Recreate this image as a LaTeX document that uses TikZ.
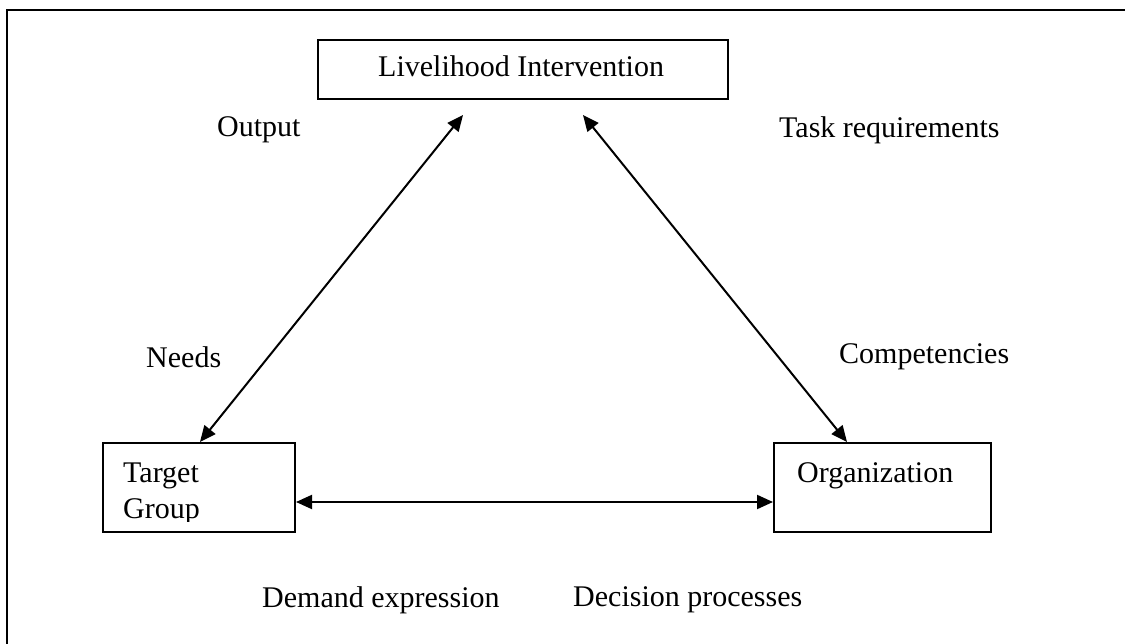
\documentclass[tikz,border=0pt]{standalone}
\usepackage{fontspec}
\setmainfont{Liberation Serif}
\usetikzlibrary{arrows.meta}
\begin{document}
\begin{tikzpicture}[x=1pt,y=-1pt,
  box/.style={draw,line width=2pt},
  lbl/.style={anchor=west,inner sep=0pt,font=\fontsize{30}{36}\selectfont},
  link/.style={line width=2pt,{Triangle[length=16pt,width=14pt]}-{Triangle[length=16pt,width=14pt]}}]
\useasboundingbox (0,0) rectangle (1125,644);
% outer frame
\draw[line width=2.8pt] (1130,10) -- (7,10) -- (7,650);
% boxes
\draw[box] (318,40) rectangle (728,99);
\node[lbl,anchor=base west] (li) at (378,77) {Livelihood Intervention};
\draw[box] (103,443) rectangle (295,532);
\draw[box] (774,443) rectangle (991,532);
\begin{scope}
  \clip (103,443) rectangle (295,521);
  \node[lbl,anchor=base west] (tg1) at (123,482) {Target};
  \node[lbl,anchor=base west] (tg2) at (123,518) {Group};
\end{scope}
\node[lbl,anchor=base west] (org) at (797,482) {Organization};
% connector end points
\coordinate (lt) at (463,115);
\coordinate (lb) at (200,442);
\coordinate (rt) at (583,115);
\coordinate (rb) at (847,442);
\coordinate (hl) at (296,502);
\coordinate (hr) at (773,502);
\draw[link] (lt) -- (lb);
\draw[link] (rt) -- (rb);
\draw[link] (hl) -- (hr);
% labels
\node[lbl] (out) at (217,130) {Output};
\node[lbl] (task) at (779,130) {Task requirements};
\node[lbl] (need) at (146,357) {Needs};
\node[lbl] (comp) at (839,357) {Competencies};
\node[lbl] (dem) at (262,600) {Demand expression};
\node[lbl] (dec) at (573,600) {Decision processes};
\end{tikzpicture}
\end{document}
